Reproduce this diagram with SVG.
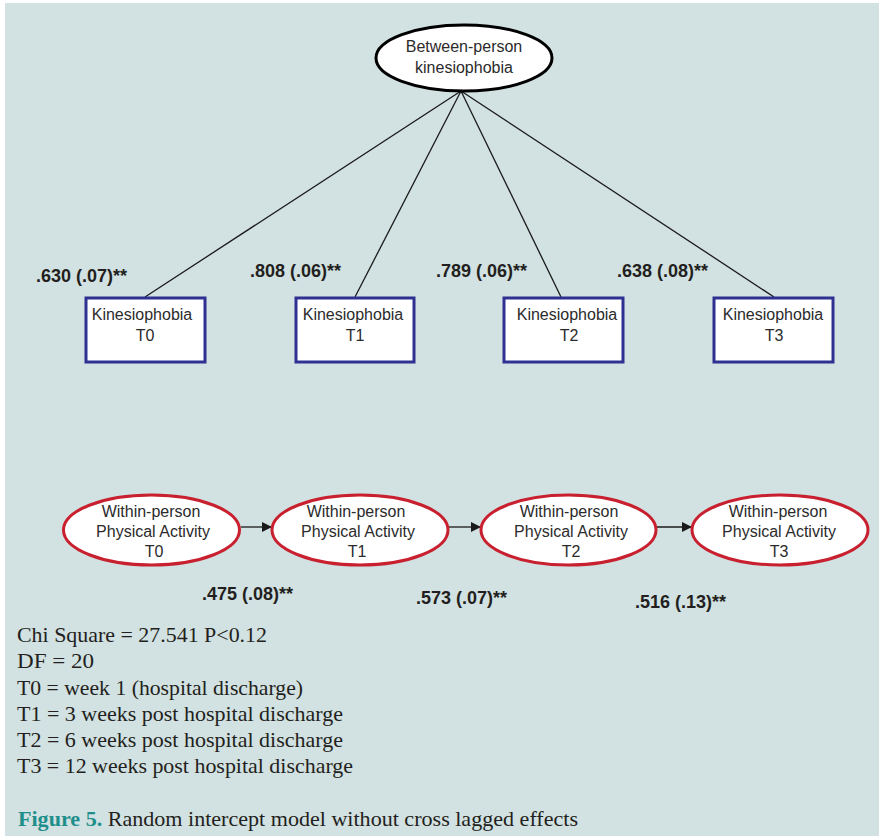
<svg xmlns="http://www.w3.org/2000/svg" width="881" height="836" viewBox="0 0 881 836">
  <style>
    .lbl { font-family: "Liberation Sans", Arial, sans-serif; font-size: 16px; fill: #2b2b2b; text-anchor: middle; }
    .coef { font-family: "Liberation Sans", Arial, sans-serif; font-size: 18px; font-weight: bold; fill: #231f20; }
    .note { font-family: "Liberation Serif", "Times New Roman", serif; font-size: 21px; fill: #231f20; }
    .box { fill: #ffffff; stroke: #2e3192; stroke-width: 3; }
    .wp { fill: #ffffff; stroke: #c8202f; stroke-width: 3; }
    .bp { fill: #ffffff; stroke: #000000; stroke-width: 3; }
    .edge { stroke: #1a1a1a; stroke-width: 1.3; fill: none; }
  </style>
  <defs>
    <marker id="arrow" viewBox="0 0 10 10" refX="10" refY="5" markerWidth="10" markerHeight="10" markerUnits="userSpaceOnUse" orient="auto">
      <path d="M0,0 L10,5 L0,10 z" fill="#1a1a1a"/>
    </marker>
  </defs>

  <!-- page frame -->
  <rect x="0" y="0" width="881" height="836" fill="#ffffff"/>
  <rect x="5" y="3" width="874" height="833" fill="#d2e1e1"/>

  <!-- connectors -->
  <g id="connectors">
    <line class="edge" x1="461" y1="91" x2="145" y2="297"/>
    <line class="edge" x1="461" y1="91" x2="355" y2="297"/>
    <line class="edge" x1="461" y1="91" x2="561" y2="297"/>
    <line class="edge" x1="461" y1="91" x2="774" y2="297"/>
    <line class="edge" x1="241" y1="527" x2="272" y2="527" marker-end="url(#arrow)"/>
    <line class="edge" x1="449" y1="527" x2="481" y2="527" marker-end="url(#arrow)"/>
    <line class="edge" x1="657" y1="527" x2="692" y2="527" marker-end="url(#arrow)"/>
  </g>

  <!-- between-person factor -->
  <g id="between-person">
    <ellipse class="bp" cx="464" cy="58" rx="88" ry="33"/>
    <text class="lbl" x="464" y="52">Between-person</text>
    <text class="lbl" x="464" y="73">kinesiophobia</text>
  </g>

  <!-- kinesiophobia indicators -->
  <g id="kin-t0">
    <rect class="box" x="86" y="298" width="119" height="64"/>
    <text class="lbl" x="142" y="320">Kinesiophobia</text>
    <text class="lbl" x="145" y="341">T0</text>
  </g>
  <g id="kin-t1">
    <rect class="box" x="296" y="298" width="118" height="64"/>
    <text class="lbl" x="353" y="320">Kinesiophobia</text>
    <text class="lbl" x="355" y="341">T1</text>
  </g>
  <g id="kin-t2">
    <rect class="box" x="504" y="298" width="119" height="64"/>
    <text class="lbl" x="567" y="320">Kinesiophobia</text>
    <text class="lbl" x="569" y="341">T2</text>
  </g>
  <g id="kin-t3">
    <rect class="box" x="714" y="298" width="119" height="64"/>
    <text class="lbl" x="773" y="320">Kinesiophobia</text>
    <text class="lbl" x="774" y="341">T3</text>
  </g>

  <!-- loadings -->
  <g id="loadings">
    <text class="coef" x="36" y="282">.630 (.07)**</text>
    <text class="coef" x="250" y="277">.808 (.06)**</text>
    <text class="coef" x="436" y="277">.789 (.06)**</text>
    <text class="coef" x="617" y="277">.638 (.08)**</text>
  </g>

  <!-- within-person physical activity -->
  <g id="pa-t0">
    <ellipse class="wp" cx="151.5" cy="530" rx="88" ry="35"/>
    <text class="lbl" x="151" y="517">Within-person</text>
    <text class="lbl" x="153" y="537">Physical Activity</text>
    <text class="lbl" x="154" y="557">T0</text>
  </g>
  <g id="pa-t1">
    <ellipse class="wp" cx="360" cy="530" rx="88" ry="35"/>
    <text class="lbl" x="356" y="517">Within-person</text>
    <text class="lbl" x="358" y="537">Physical Activity</text>
    <text class="lbl" x="357" y="557">T1</text>
  </g>
  <g id="pa-t2">
    <ellipse class="wp" cx="568.5" cy="530" rx="87.5" ry="35"/>
    <text class="lbl" x="569" y="517">Within-person</text>
    <text class="lbl" x="571" y="537">Physical Activity</text>
    <text class="lbl" x="571" y="557">T2</text>
  </g>
  <g id="pa-t3">
    <ellipse class="wp" cx="780" cy="530" rx="88" ry="35"/>
    <text class="lbl" x="778" y="517">Within-person</text>
    <text class="lbl" x="779" y="537">Physical Activity</text>
    <text class="lbl" x="779" y="557">T3</text>
  </g>

  <!-- autoregressive paths -->
  <g id="paths">
    <text class="coef" x="202" y="600">.475 (.08)**</text>
    <text class="coef" x="416" y="604">.573 (.07)**</text>
    <text class="coef" x="635" y="608">.516 (.13)**</text>
  </g>

  <!-- fit statistics and time points -->
  <g id="notes">
    <text class="note" x="17" y="642" textLength="250" lengthAdjust="spacingAndGlyphs">Chi Square = 27.541 P&lt;0.12</text>
    <text class="note" x="17" y="668" textLength="77" lengthAdjust="spacingAndGlyphs">DF = 20</text>
    <text class="note" x="17" y="695" textLength="286" lengthAdjust="spacingAndGlyphs">T0 = week 1 (hospital discharge)</text>
    <text class="note" x="17" y="721" textLength="326" lengthAdjust="spacingAndGlyphs">T1 = 3 weeks post hospital discharge</text>
    <text class="note" x="17" y="747" textLength="326" lengthAdjust="spacingAndGlyphs">T2 = 6 weeks post hospital discharge</text>
    <text class="note" x="17" y="773" textLength="336" lengthAdjust="spacingAndGlyphs">T3 = 12 weeks post hospital discharge</text>
  </g>

  <!-- caption -->
  <text class="note" x="18" y="826" textLength="560" lengthAdjust="spacingAndGlyphs"><tspan fill="#1f8f8c" font-weight="bold">Figure 5.</tspan> Random intercept model without cross lagged effects</text>
</svg>
